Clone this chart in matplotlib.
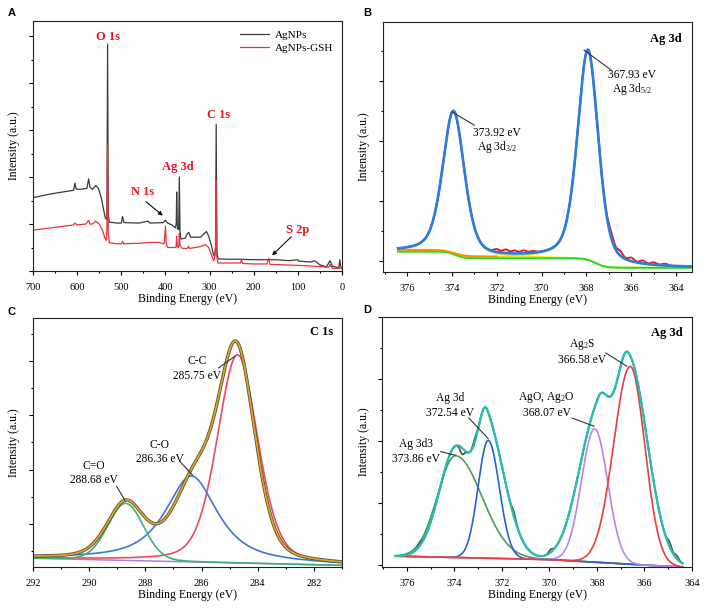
import numpy as np
import matplotlib
matplotlib.use('Agg')
import matplotlib.pyplot as plt
from matplotlib.ticker import MultipleLocator, NullFormatter

plt.rcParams['font.family'] = ['Liberation Serif', 'DejaVu Serif']
plt.rcParams['mathtext.fontset'] = 'custom'
plt.rcParams['mathtext.rm'] = 'Liberation Serif'
plt.rcParams['mathtext.it'] = 'Liberation Serif:italic'

# ---------------- panel A: survey spectra (energy, intensity) ----------------
ag_E = [700, 660, 620, 608, 605, 602, 590, 578, 574, 571, 565, 558, 552, 545, 540, 536,
        533, 532.5, 531, 529.5, 527, 510, 500, 497, 494, 460, 440, 435, 405, 400, 395,
        385, 378, 375.5, 374.5, 373, 370, 368.5, 367, 365, 355, 350, 347, 343, 320, 312,
        307, 302, 296, 291, 288, 286.5, 285, 283.5, 281, 260, 230, 200, 165, 150, 120,
        100, 98, 70, 62, 50, 35, 27, 22, 12, 7, 5, 3, 0]
ag_I = [1.56, 1.64, 1.70, 1.72, 1.87, 1.74, 1.74, 1.76, 1.96, 1.78, 1.74, 1.82, 1.76, 1.55,
        1.30, 1.12, 1.10, 1.2, 4.83, 1.2, 1.04, 1.02, 1.02, 1.16, 1.03, 1.02, 1.06, 1.02,
        1.03, 1.08, 1.02, 0.98, 0.92, 1.0, 1.68, 0.9, 0.88, 2.0, 0.85, 0.68, 0.70, 0.80,
        0.82, 0.72, 0.72, 0.80, 0.84, 0.74, 0.55, 0.34, 0.32, 0.5, 3.12, 0.4, 0.26, 0.25,
        0.25, 0.24, 0.24, 0.24, 0.22, 0.24, 0.21, 0.19, 0.22, 0.13, 0.09, 0.22, 0.1, 0.08,
        0.08, 0.24, 0.08, 0.07]
gsh_E = [700, 650, 608, 605, 600, 580, 574, 571, 565, 558, 550, 542, 537, 534, 532.5, 531,
         529.5, 527, 510, 500, 497, 494, 460, 430, 415, 405, 402.5, 400, 398, 395, 380,
         376, 374.5, 373, 370, 368.5, 367, 362, 350, 348, 345, 320, 310, 302, 296, 291,
         289, 286.5, 285, 283.5, 281, 240, 230, 228, 225, 200, 170, 166, 163, 130, 100,
         60, 30, 27, 22, 5, 3, 0]
gsh_I = [0.87, 0.93, 0.98, 1.02, 0.98, 1.0, 1.08, 1.0, 1.0, 1.06, 1.0, 0.85, 0.7, 0.65,
         0.9, 2.68, 0.8, 0.6, 0.58, 0.58, 0.63, 0.58, 0.59, 0.61, 0.61, 0.58, 0.6, 0.95,
         0.58, 0.5, 0.5, 0.5, 0.74, 0.52, 0.5, 0.8, 0.55, 0.48, 0.48, 0.53, 0.48, 0.52,
         0.56, 0.5, 0.35, 0.22, 0.26, 0.5, 1.92, 0.3, 0.17, 0.17, 0.17, 0.24, 0.16, 0.15,
         0.15, 0.27, 0.14, 0.13, 0.12, 0.1, 0.08, 0.14, 0.06, 0.05, 0.1, 0.04]

# ---------------- panel B: Ag 3d of AgNPs ----------------
b_range = (376.4, 363.3)
b_cen = [373.92, 367.93]
b_hgt = [2.38, 3.5]
b_hw = [0.575, 0.55]
b_eta = [0.4, 0.4]
b_bg0 = -0.12
b_step_c = [373.85, 367.6]
b_step_w = [0.35, 0.45]
b_step_h = [0.11, 0.16]
b_noise_c = [372.0, 371.6, 371.2, 370.8, 370.4, 366.9, 366.5, 366.0, 365.5, 365.0, 364.5]
b_noise_a = [0.05, 0.06, 0.05, 0.05, 0.03, 0.1, 0.08, 0.06, 0.05, 0.04, 0.03]

# ---------------- panel C: C 1s ----------------
c_range = (292.0, 281.0)
c_bg_E = [292.0, 281.0]
c_bg_I = [-0.63, -0.76]
c_names = ['C-C', 'C-O', 'C=O']
c_cen = [284.72, 286.36, 288.7]
c_hgt = [3.83, 1.58, 1.05]
c_hw = [0.85, 1.1, 0.75]
c_eta = [0.3, 0.8, 0.1]
c_colors = ['#f04a60', '#3a78d8', '#40b07a']
c_env_cen = [288.7, 286.25, 284.75]
c_env_hgt = [1.0, 1.35, 3.8]
c_env_hw = [0.775, 0.9, 0.775]
c_env_eta = [0.3, 0.4, 0.3]

# ---------------- panel D: Ag 3d of AgNPs-GSH ----------------
d_range = (376.5, 364.4)
d_bg_E = [376.5, 370.0, 366.0, 364.4]
d_bg_I = [0.145, 0.09, 0.0, -0.03]
d_cen = [373.95, 372.58, 368.1, 366.6]
d_hgt = [1.64, 1.9, 2.15, 3.19]
d_hwl = [0.9, 0.5, 0.65, 0.82]
d_hwr = [1.3, 0.55, 0.65, 0.72]
d_colors = ['#4a9e5c', '#2860d8', '#b987e8', '#ee3b3b']
d_env_cen = [373.9, 372.62, 367.95, 366.7]
d_env_hgt = [1.8, 1.95, 2.4, 3.35]
d_env_hwl = [0.85, 0.45, 0.95, 0.65]
d_env_hwr = [0.9, 0.9, 0.55, 0.95]
d_noise_c = [375.45, 373.68, 373.15, 371.5, 369.95, 364.95, 364.65]
d_noise_a = [0.06, -0.1, 0.06, 0.08, 0.05, 0.08, 0.05]


def pv(E, c, h, wl, wr, eta=0.0):
    w = np.where(E >= c, wl, wr)
    u = (E - c) / w
    return h * ((1 - eta) * np.exp(-np.log(2) * u ** 2) + eta / (1 + u ** 2))


def style_axes(ax, xmaj, xmin):
    ax.xaxis.set_major_locator(MultipleLocator(xmaj))
    ax.xaxis.set_minor_locator(MultipleLocator(xmin))
    ax.yaxis.set_major_locator(MultipleLocator(1))
    ax.yaxis.set_minor_locator(MultipleLocator(0.5))
    ax.yaxis.set_major_formatter(NullFormatter())
    ax.tick_params(which='both', direction='out', width=0.8, labelsize=7.5)
    ax.tick_params(axis='x', pad=5.5)
    ax.tick_params(which='major', length=3)
    ax.tick_params(which='minor', length=1.6)
    for s in ax.spines.values():
        s.set_linewidth(0.8)
        s.set_color('#222222')
    ax.set_xlabel('Binding Energy (eV)', fontsize=8.5, labelpad=1)
    ax.set_ylabel('Intensity (a.u.)', fontsize=8.5, labelpad=2.5)


fig = plt.figure(figsize=(7.08, 6.09), dpi=100)
W, H = 708, 609


def add_ax(x0, y0, x1, y1):
    return fig.add_axes([x0 / W, 1 - y1 / H, (x1 - x0) / W, (y1 - y0) / H])


axA = add_ax(33, 21, 342, 271)
axB = add_ax(383, 22, 692, 272)
axC = add_ax(33, 318, 342, 567)
axD = add_ax(382, 317, 692, 567)

for lab, (px, py) in zip('ABCD', [(12, 13), (367, 13), (12, 312), (367, 310)]):
    fig.text(px / W, 1 - py / H, lab, ha='center', va='center', fontsize=8,
             fontweight='bold', family='Liberation Sans')

# ---- A ----
axA.plot(ag_E, ag_I, color='#3a3a3a', lw=0.9, label='AgNPs')
axA.plot(gsh_E, gsh_I, color='#e8343a', lw=0.9, label='AgNPs-GSH')
axA.set_xlim(700, 0)
axA.set_ylim(0, 5.32)
style_axes(axA, 100, 50)
axA.legend(loc='upper right', bbox_to_anchor=(1.0, 1.0), frameon=False, fontsize=8,
           handlelength=2.6, handletextpad=0.5, labelspacing=0.3, borderaxespad=0.4)
red = '#e8141e'
for txt, x, y in [('O 1s', 529.4, 4.99), ('C 1s', 280.2, 3.32), ('Ag 3d', 372.2, 2.22),
                  ('N 1s', 451.5, 1.69), ('S 2p', 100.4, 0.87)]:
    axA.text(x, y, txt, color=red, fontsize=9, fontweight='bold', ha='center', va='center')
for (x0, y0), (x1, y1) in [((448.5, 1.51), (401, 1.14)), ((110.4, 0.77), (163, 0.29))]:
    axA.annotate('', xy=(x1, y1), xytext=(x0, y0),
                 arrowprops=dict(arrowstyle='-|>', color='#111111', lw=0.8,
                                 mutation_scale=6))

# ---- B ----
Eb = np.linspace(b_range[0], b_range[1], 800)
bgB = b_bg0 + sum(h * 0.5 * (1 + np.tanh((Eb - c) / w))
                  for c, w, h in zip(b_step_c, b_step_w, b_step_h))
peaksB = [pv(Eb, c, h, w, w, e) for c, h, w, e in zip(b_cen, b_hgt, b_hw, b_eta)]
envB = bgB + sum(peaksB)
rawB = envB + sum(a * np.exp(-((Eb - c) / 0.18) ** 2) for c, a in zip(b_noise_c, b_noise_a))
for p in peaksB:
    axB.plot(Eb, bgB + p, color='#e8e030', lw=1.2)
axB.plot(Eb, bgB, color='#22dd22', lw=1.4)
mask = Eb >= 372.0
axB.plot(Eb[mask], 0.07 + 0.11 * 0.5 * (1 + np.tanh((Eb[mask] - 373.9) / 0.5)),
         color='#ff8c00', lw=1.4)
axB.plot(Eb, rawB, color='#e02020', lw=1.4)
axB.plot(Eb, envB, color='#2a7de1', lw=1.9)
axB.set_xlim(377.07, 363.29)
axB.set_ylim(-0.19, 3.98)
style_axes(axB, 2, 1)
axB.text(0.968, 0.932, 'Ag 3d', transform=axB.transAxes, ha='right', va='center',
         fontsize=9, fontweight='bold')
axB.text(365.96, 3.10, '367.93 eV', ha='center', va='center', fontsize=8.3)
axB.text(365.96, 2.86, r'Ag 3d$_{\mathregular{5/2}}$', ha='center', va='center', fontsize=8.3)
axB.text(371.98, 2.13, '373.92 eV', ha='center', va='center', fontsize=8.3)
axB.text(371.98, 1.90, r'Ag 3d$_{\mathregular{3/2}}$', ha='center', va='center', fontsize=8.3)
axB.plot([368.1, 366.9], [3.51, 3.18], color='#333333', lw=0.8)
axB.plot([373.99, 373.0], [2.48, 2.26], color='#333333', lw=0.8)

# ---- C ----
Ec = np.linspace(c_range[0], c_range[1], 800)
bgC = np.interp(Ec[::-1], c_bg_E[::-1], c_bg_I[::-1])[::-1]
envC = bgC + sum(pv(Ec, c, h, w, w, e)
                 for c, h, w, e in zip(c_env_cen, c_env_hgt, c_env_hw, c_env_eta))
axC.plot(Ec, bgC, color='#b07be0', lw=1.1)
for c, h, w, e, col in zip(c_cen, c_hgt, c_hw, c_eta, c_colors):
    axC.plot(Ec, bgC + pv(Ec, c, h, w, w, e), color=col, lw=1.2)
axC.plot(Ec, envC, color='#5a5040', lw=2.4)
axC.plot(Ec, envC, color='#e0a81c', lw=1.2)
axC.set_xlim(292, 281)
axC.set_ylim(-0.79, 3.79)
style_axes(axC, 2, 1)
axC.text(0.971, 0.945, 'C 1s', transform=axC.transAxes, ha='right', va='center',
         fontsize=9, fontweight='bold')
for t1, t2, x, y in [('C-C', '285.75 eV', 286.17, 2.99), ('C-O', '286.36 eV', 287.48, 1.45),
                     ('C=O', '288.68 eV', 289.85, 1.07)]:
    axC.text(x, y, t1, ha='center', va='center', fontsize=8.3)
    axC.text(x, y - 0.26, t2, ha='center', va='center', fontsize=8.3)
for (x0, y0), (x1, y1) in [((285.4, 2.87), (284.8, 3.09)), ((286.77, 1.15), (286.32, 0.9)),
                           ((289.02, 0.69), (288.73, 0.44))]:
    axC.plot([x0, x1], [y0, y1], color='#333333', lw=0.8)

# ---- D ----
Ed = np.linspace(d_range[0], d_range[1], 800)
bgD = np.interp(Ed[::-1], d_bg_E[::-1], d_bg_I[::-1])[::-1]
envD = bgD + sum(pv(Ed, c, h, wl, wr)
                 for c, h, wl, wr in zip(d_env_cen, d_env_hgt, d_env_hwl, d_env_hwr))
rawD = envD + sum(a * np.exp(-((Ed - c) / 0.12) ** 2) for c, a in zip(d_noise_c, d_noise_a))
axD.plot(Ed, bgD, color='#d4a020', lw=1.2)
for c, h, wl, wr, col in zip(d_cen, d_hgt, d_hwl, d_hwr, d_colors):
    axD.plot(Ed, bgD + pv(Ed, c, h, wl, wr), color=col, lw=1.2)
axD.plot(Ed, rawD, color='#555555', lw=1.3)
axD.plot(Ed, envD, color='#22c0b0', lw=1.6)
axD.set_xlim(377.05, 364)
axD.set_ylim(-0.03, 4.0)
style_axes(axD, 2, 1)
axD.text(0.969, 0.935, 'Ag 3d', transform=axD.transAxes, ha='right', va='center',
         fontsize=9, fontweight='bold')
for t1, t2, x, y in [(r'Ag$_{\mathregular{2}}$S', '366.58 eV', 368.62, 3.55),
                     (r'AgO, Ag$_{\mathregular{2}}$O', '368.07 eV', 370.12, 2.70),
                     ('Ag 3d', '372.54 eV', 374.2, 2.69),
                     ('Ag 3d3', '373.86 eV', 375.63, 1.95)]:
    axD.text(x, y, t1, ha='center', va='center', fontsize=8.3)
    axD.text(x, y - 0.24, t2, ha='center', va='center', fontsize=8.3)
for (x0, y0), (x1, y1) in [((367.63, 3.42), (366.75, 3.21)), ((369.04, 2.37), (368.13, 2.24)),
                           ((373.39, 2.37), (372.58, 2.04)), ((374.58, 1.83), (373.95, 1.77))]:
    axD.plot([x0, x1], [y0, y1], color='#333333', lw=0.8)

fig.savefig('out.png', dpi=100)
